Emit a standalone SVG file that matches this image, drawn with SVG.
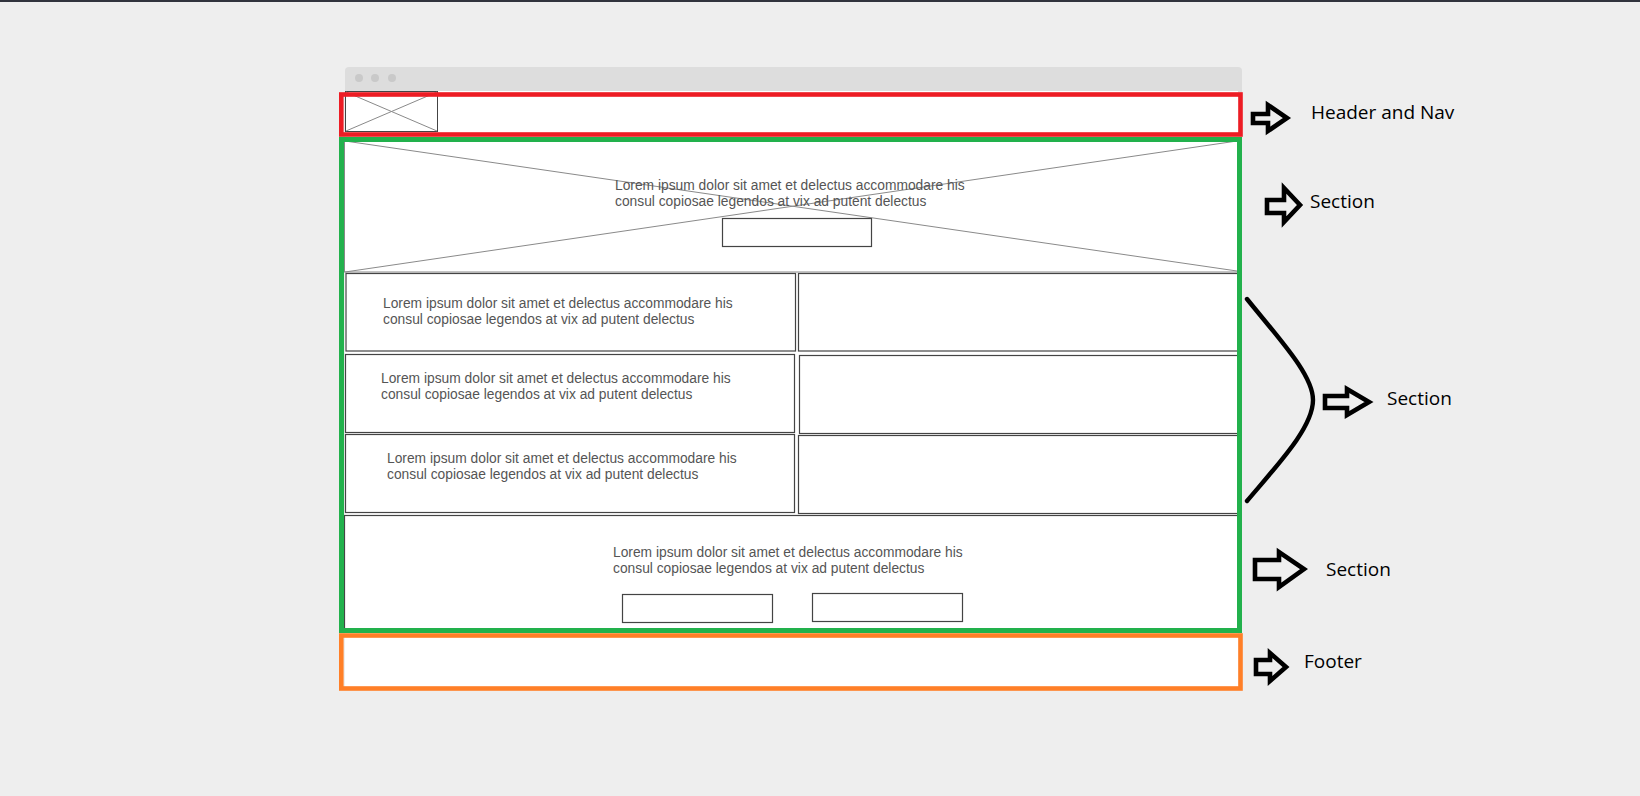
<svg xmlns="http://www.w3.org/2000/svg" width="1640" height="796" viewBox="0 0 1640 796">
<style>
.box{fill:#ffffff;stroke:#444444;stroke-width:1.2}
.cross{stroke:#8a8a8a;stroke-width:1;fill:none}
.lorem{font-family:"Liberation Sans",Arial,sans-serif;font-size:13.8px;fill:#555555}
.label{font-family:"Open Sans","Noto Sans",sans-serif;font-size:19px;fill:#000000}
.arrow{fill:none;stroke:#000000;stroke-width:4.6;stroke-linejoin:miter}
.dot{fill:#c9c9c9}
</style>
<rect x="0" y="0" width="1640" height="796" fill="#eeeeee"/>
<rect x="0" y="0" width="1640" height="2" fill="#30333d"/>

<g id="browser">
<rect x="345" y="67" width="897" height="30" rx="4" fill="#dddddd"/>
<circle class="dot" cx="359" cy="78" r="4"/>
<circle class="dot" cx="375" cy="78" r="4"/>
<circle class="dot" cx="392" cy="78" r="4"/>
<rect x="345" y="91" width="893" height="598" fill="#ffffff"/>
</g>

<g id="logo">
<rect x="345.5" y="91.5" width="92" height="40" fill="#ffffff" stroke="#444444" stroke-width="1"/>
<line class="cross" x1="346" y1="92" x2="437" y2="131"/>
<line class="cross" x1="437" y1="92" x2="346" y2="131"/>
</g>

<g id="hero">
<rect x="344.5" y="141" width="893" height="131" fill="#ffffff" stroke="#888888" stroke-width="1"/>
<line class="cross" x1="345" y1="141" x2="1237" y2="271"/>
<line class="cross" x1="1237" y1="141" x2="345" y2="272"/>
<text class="lorem" x="615" y="190">Lorem ipsum dolor sit amet et delectus accommodare his</text>
<text class="lorem" x="615" y="206">consul copiosae legendos at vix ad putent delectus</text>
<rect class="box" x="722.5" y="218.5" width="149" height="28"/>
</g>

<g id="row1">
<rect class="box" x="346" y="273.5" width="449.5" height="77.5"/>
<text class="lorem" x="383" y="308">Lorem ipsum dolor sit amet et delectus accommodare his</text>
<text class="lorem" x="383" y="324">consul copiosae legendos at vix ad putent delectus</text>
<rect class="box" x="798.5" y="273.5" width="440" height="77.5"/>
</g>

<g id="row2">
<rect class="box" x="345.5" y="354.5" width="449" height="78"/>
<text class="lorem" x="381" y="383">Lorem ipsum dolor sit amet et delectus accommodare his</text>
<text class="lorem" x="381" y="399">consul copiosae legendos at vix ad putent delectus</text>
<rect class="box" x="799.5" y="355.5" width="439" height="78"/>
</g>

<g id="row3">
<rect class="box" x="345.5" y="434.5" width="449" height="78"/>
<text class="lorem" x="387" y="463">Lorem ipsum dolor sit amet et delectus accommodare his</text>
<text class="lorem" x="387" y="479">consul copiosae legendos at vix ad putent delectus</text>
<rect class="box" x="798.5" y="435.5" width="440" height="78"/>
</g>

<g id="cta">
<rect class="box" x="344.5" y="515.5" width="894" height="114"/>
<text class="lorem" x="613" y="557">Lorem ipsum dolor sit amet et delectus accommodare his</text>
<text class="lorem" x="613" y="573">consul copiosae legendos at vix ad putent delectus</text>
<rect class="box" x="622.5" y="594.5" width="150" height="28"/>
<rect class="box" x="812.5" y="593.5" width="150" height="28"/>
</g>

<g id="outlines">
<rect x="341.3" y="94.5" width="899.2" height="40" fill="none" stroke="#ed1c24" stroke-width="4.6"/>
<rect x="341.5" y="139.5" width="898" height="491" fill="none" stroke="#22b14c" stroke-width="5"/>
<rect x="341.3" y="635.5" width="899.2" height="53" fill="none" stroke="#ff7f27" stroke-width="4.6"/>
</g>

<g id="connectors">
<path d="M1247,299 C1280,340 1313,375 1313,400 C1313,427 1280,462 1247,501" fill="none" stroke="#000000" stroke-width="4.4" stroke-linecap="round"/>
<polygon class="arrow" points="1253,114 1268,114 1268,105 1287,118 1268,131 1268,123 1253,123"/>
<polygon class="arrow" points="1267,200 1284,200 1284,188 1300,205 1284,222 1284,213 1267,213"/>
<polygon class="arrow" points="1325,396 1347,396 1347,389 1369,402 1347,415 1347,408 1325,408"/>
<polygon class="arrow" points="1255,560 1279,560 1279,552 1304,569 1279,587 1279,579 1255,579"/>
<polygon class="arrow" points="1256,660 1270,660 1270,653 1286,667 1270,681 1270,674 1256,674"/>
</g>

<g id="labels">
<text class="label" x="1311" y="119">Header and Nav</text>
<text class="label" x="1310" y="208">Section</text>
<text class="label" x="1387" y="405">Section</text>
<text class="label" x="1326" y="576">Section</text>
<text class="label" x="1304" y="668">Footer</text>
</g>
</svg>
